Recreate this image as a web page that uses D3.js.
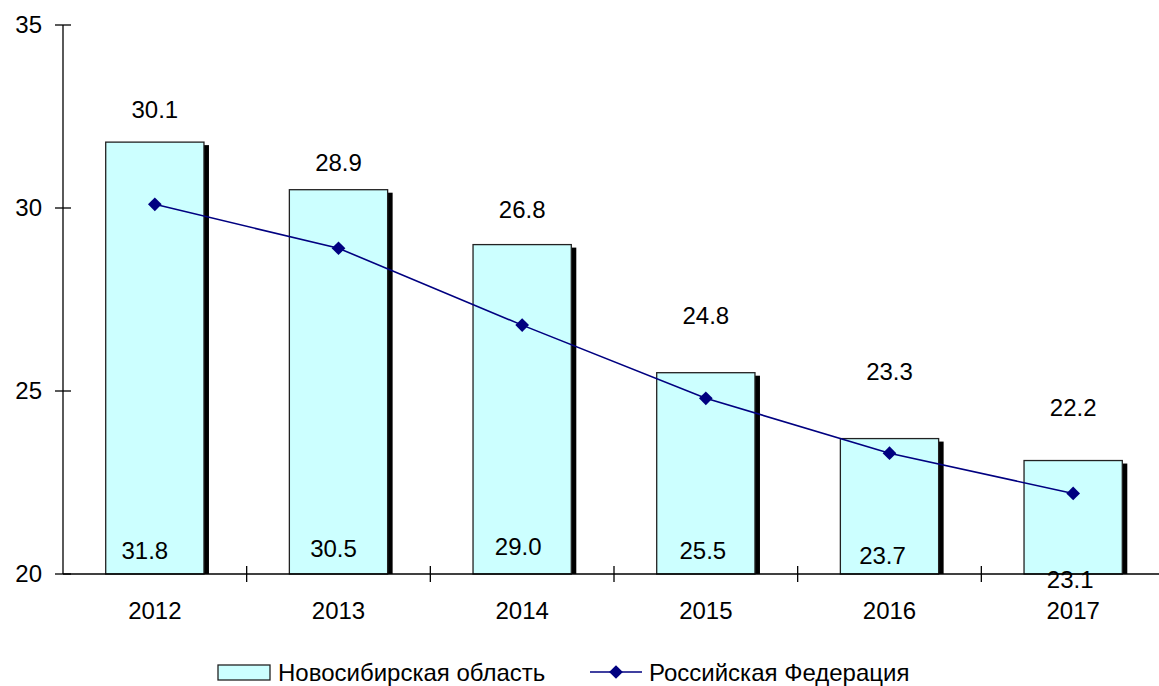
<!DOCTYPE html>
<html>
<head>
<meta charset="utf-8">
<script src="https://cdn.jsdelivr.net/npm/d3@7"></script>
<style>
  body { margin: 0; background: #fff; }
  text { font-family: "Liberation Sans", Arial, sans-serif; fill: #000; }
</style>
</head>
<body>
<div id="canvas"></div>
<script>
// years on the x axis
const years = ["2012", "2013", "2014", "2015", "2016", "2017"];
// Новосибирская область (bars)
const nsoValues = [31.8, 30.5, 29.0, 25.5, 23.7, 23.1];
// Российская Федерация (line)
const rfValues = [30.1, 28.9, 26.8, 24.8, 23.3, 22.2];
const yTicks = [20, 25, 30, 35];
const seriesNames = ["Новосибирская область", "Российская Федерация"];

const width = 1159, height = 686;
const fontSize = 24;

const svg = d3.select("#canvas").append("svg")
    .attr("width", width).attr("height", height);
svg.append("rect").attr("width", width).attr("height", height).attr("fill", "#fff");

const x = d3.scaleBand().domain(years).range([63, 1165]).paddingInner(0.465).paddingOuter(0.2325);
const xc = d => x(d) + x.bandwidth() / 2;
const y = d3.scaleLinear().domain([20, 35]).range([574, 25]);

// bars: shadow first, then bar
const bars = svg.append("g");
bars.selectAll("rect.shadow")
    .data(years)
    .enter().append("rect")
    .attr("class", "shadow")
    .attr("x", d => x(d) + 5)
    .attr("y", (d, i) => y(nsoValues[i]) + 3)
    .attr("width", x.bandwidth())
    .attr("height", (d, i) => y(20) - y(nsoValues[i]) - 3)
    .attr("fill", "#000");
bars.selectAll("rect.bar")
    .data(years)
    .enter().append("rect")
    .attr("class", "bar")
    .attr("x", d => x(d))
    .attr("y", (d, i) => y(nsoValues[i]))
    .attr("width", x.bandwidth())
    .attr("height", (d, i) => y(20) - y(nsoValues[i]))
    .attr("fill", "#ccffff")
    .attr("stroke", "#222")
    .attr("stroke-width", 1.3);

// axes
const axis = svg.append("g").attr("stroke", "#000").attr("stroke-width", 1.3);
axis.append("line").attr("x1", 63).attr("x2", width).attr("y1", y(20)).attr("y2", y(20));
axis.append("line").attr("x1", 63).attr("x2", 63).attr("y1", y(35)).attr("y2", y(20));
axis.selectAll("line.yt").data(yTicks).enter().append("line")
    .attr("x1", 55).attr("x2", 71).attr("y1", d => y(d)).attr("y2", d => y(d));
const gap = (x.step() - x.bandwidth()) / 2;
axis.selectAll("line.xt").data(years.slice(1)).enter().append("line")
    .attr("x1", d => x(d) - gap)
    .attr("x2", d => x(d) - gap)
    .attr("y1", y(20) - 8).attr("y2", y(20) + 8);

svg.append("g").selectAll("text").data(yTicks).enter().append("text")
    .attr("x", 42).attr("y", d => y(d)).attr("dy", "0.35em")
    .attr("text-anchor", "end").style("font-size", fontSize + "px")
    .text(d => d);
svg.append("g").selectAll("text").data(years).enter().append("text")
    .attr("x", d => xc(d)).attr("y", 611).attr("dy", "0.35em")
    .attr("text-anchor", "middle").style("font-size", fontSize + "px")
    .text(d => d);

// line
const line = d3.line().x((d, i) => xc(years[i])).y(d => y(d));
svg.append("path").datum(rfValues)
    .attr("d", line).attr("fill", "none")
    .attr("stroke", "#000080").attr("stroke-width", 1.6);
const diamond = d3.symbol().type(d3.symbolDiamond2).size(120);
svg.append("g").selectAll("path").data(rfValues).enter().append("path")
    .attr("transform", (d, i) => "translate(" + xc(years[i]) + "," + y(d) + ")")
    .attr("d", diamond).attr("fill", "#000080");

// value labels (placed by hand in the original)
const rfLabelOffset = [33, 27, 35, 57, 67, 53];
svg.append("g").selectAll("text").data(rfValues).enter().append("text")
    .attr("x", (d, i) => xc(years[i]))
    .attr("y", (d, i) => y(nsoValues[i]) - rfLabelOffset[i])
    .attr("dy", "0.35em").attr("text-anchor", "middle")
    .style("font-size", fontSize + "px")
    .text(d => d.toFixed(1));
const nsoLabelDx = [-10, -5, -4, -3, -7, -3];
const nsoLabelY = [551, 549, 547, 551, 556, 580];
svg.append("g").selectAll("text").data(nsoValues).enter().append("text")
    .attr("x", (d, i) => xc(years[i]) + nsoLabelDx[i])
    .attr("y", (d, i) => nsoLabelY[i])
    .attr("dy", "0.35em").attr("text-anchor", "middle")
    .style("font-size", fontSize + "px")
    .text(d => d.toFixed(1));

// legend
const lg = svg.append("g");
lg.append("rect").attr("x", 218).attr("y", 665).attr("width", 52).attr("height", 15)
    .attr("fill", "#ccffff").attr("stroke", "#222").attr("stroke-width", 1.3);
lg.append("text").attr("x", 278).attr("y", 673).attr("dy", "0.35em")
    .style("font-size", fontSize + "px").text(seriesNames[0]);
lg.append("line").attr("x1", 590).attr("x2", 642).attr("y1", 672).attr("y2", 672)
    .attr("stroke", "#000080").attr("stroke-width", 1.6);
lg.append("path").attr("transform", "translate(616,672)").attr("d", diamond).attr("fill", "#000080");
lg.append("text").attr("x", 649).attr("y", 673).attr("dy", "0.35em")
    .style("font-size", fontSize + "px").text(seriesNames[1]);
</script>
</body>
</html>
